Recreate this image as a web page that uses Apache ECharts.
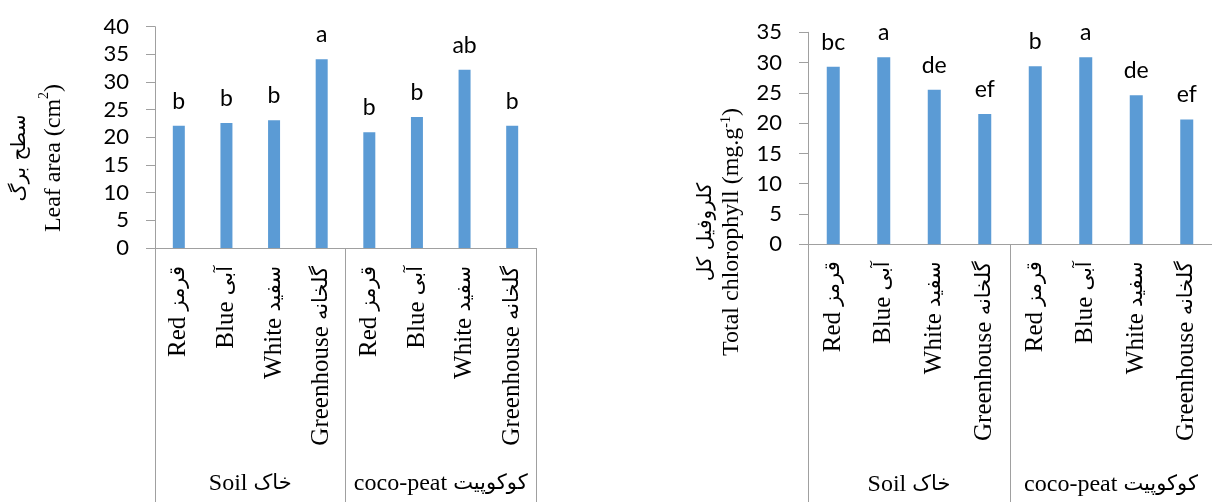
<!DOCTYPE html>
<html>
<head>
<meta charset="utf-8">
<script src="https://cdn.jsdelivr.net/npm/echarts@6/dist/echarts.min.js"></script>
<style>
  html, body { margin: 0; padding: 0; background: #fff; }
  #chart { width: 1212px; height: 502px; }
</style>
</head>
<body>
<div id="chart"></div>
<script>
// categories (inner level) and groups (outer level)
const categories = ['Red قرمز', 'Blue آبی', 'White سفید', 'Greenhouse گلخانه',
                    'Red قرمز', 'Blue آبی', 'White سفید', 'Greenhouse گلخانه']
const groups = ['Soil خاک', 'coco-peat کوکوپیت']

// leaf area (cm2)
const leafArea = [22.1, 22.6, 23.1, 34.1, 20.9, 23.7, 32.2, 22.1]
const leafLetters = ['b', 'b', 'b', 'a', 'b', 'b', 'ab', 'b']

// total chlorophyll (mg.g-1)
const chlorophyll = [29.3, 30.9, 25.5, 21.5, 29.4, 30.9, 24.6, 20.6]
const chlLetters = ['bc', 'a', 'de', 'ef', 'b', 'a', 'de', 'ef']

const gray = '#a0a0a0'
const serif = '"Liberation Serif", "Times New Roman", serif'
const arabic = '"DejaVu Sans", sans-serif'
const sans = 'Lato, "Open Sans", sans-serif'

const chart = echarts.init(document.getElementById('chart'))

// split "English فارسی" into two rich parts, keep the space in the english part
const splitLabel = v => {
  const i = v.indexOf(' ')
  return '{en|' + v.slice(0, i) + ' }{fa|' + v.slice(i + 1) + '}'
}

// inner category axis
const catAxis = (gridIndex, margin) => ({
  type: 'category',
  gridIndex: gridIndex,
  data: categories,
  position: 'bottom',
  axisLine: { show: true, lineStyle: { color: gray, width: 1 } },
  axisTick: { show: false },
  axisLabel: {
    interval: 0,
    rotate: 90,
    margin: margin,
    color: '#000',
    formatter: splitLabel,
    rich: {
      en: { fontFamily: serif, fontSize: 25, color: '#000' },
      fa: { fontFamily: arabic, fontSize: 21, color: '#000' }
    }
  }
})

// outer group axis, its ticks draw the separators
const groupAxis = (gridIndex, margin, len) => ({
  type: 'category',
  gridIndex: gridIndex,
  data: groups,
  position: 'bottom',
  axisLine: { show: false },
  axisTick: { show: true, length: len, lineStyle: { color: gray, width: 1 } },
  axisLabel: {
    interval: 0,
    margin: margin,
    color: '#000',
    formatter: splitLabel,
    rich: {
      en: { fontFamily: serif, fontSize: 24, color: '#000' },
      fa: { fontFamily: arabic, fontSize: 21, color: '#000' }
    }
  }
})

const valAxis = (gridIndex, max) => ({
  type: 'value',
  gridIndex: gridIndex,
  min: 0,
  max: max,
  interval: 5,
  axisLine: { show: true, lineStyle: { color: gray, width: 1 } },
  axisTick: { show: true, length: 9, lineStyle: { color: gray } },
  splitLine: { show: false },
  axisLabel: {
    margin: 26,
    color: '#000',
    fontFamily: sans,
    fontSize: 22
  }
})

const barSeries = (idx, data, letters, width) => ({
  type: 'bar',
  xAxisIndex: idx * 2,
  yAxisIndex: idx,
  data: data,
  barWidth: width,
  itemStyle: { color: '#5b9bd5' },
  label: {
    show: true,
    position: 'top',
    distance: 13,
    color: '#000',
    fontFamily: sans,
    fontSize: 23,
    formatter: p => letters[p.dataIndex]
  }
})

const nameRich = lh => ({
  fa: { fontFamily: arabic, fontSize: 20, fill: '#000', lineHeight: lh },
  en: { fontFamily: serif, fontSize: 24, fill: '#000', lineHeight: lh },
  sup: { fontFamily: serif, fontSize: 14, fill: '#000', verticalAlign: 'top', lineHeight: lh }
})

const option = {
  animation: false,
  backgroundColor: '#fff',
  grid: [
    { left: 155, top: 26.7, width: 381, height: 221.3 },
    { left: 808, top: 32.3, width: 417, height: 212 }
  ],
  xAxis: [
    catAxis(0, 18),
    groupAxis(0, 224, 256),
    catAxis(1, 17),
    groupAxis(1, 228, 260)
  ],
  yAxis: [
    valAxis(0, 40),
    valAxis(1, 35)
  ],
  series: [
    barSeries(0, leafArea, leafLetters, 12),
    barSeries(1, chlorophyll, chlLetters, 13)
  ],
  graphic: [
    {
      type: 'text',
      x: 37, y: 158,
      rotation: Math.PI / 2,
      style: {
        text: '{fa|سطح برگ}\n{en|Leaf area (cm}{sup|2}{en|)}',
        rich: nameRich(34),
        align: 'center',
        verticalAlign: 'middle'
      }
    },
    {
      type: 'text',
      x: 719, y: 232,
      rotation: Math.PI / 2,
      style: {
        text: '{fa|کلروفیل کل}\n{en|Total chlorophyll (mg.g}{sup|-1}{en|)}',
        rich: nameRich(26),
        align: 'center',
        verticalAlign: 'middle'
      }
    }
  ]
}

chart.setOption(option)

window.addEventListener('resize', () => {
  if (chart) {
    chart.resize()
  }
})
</script>
</body>
</html>
